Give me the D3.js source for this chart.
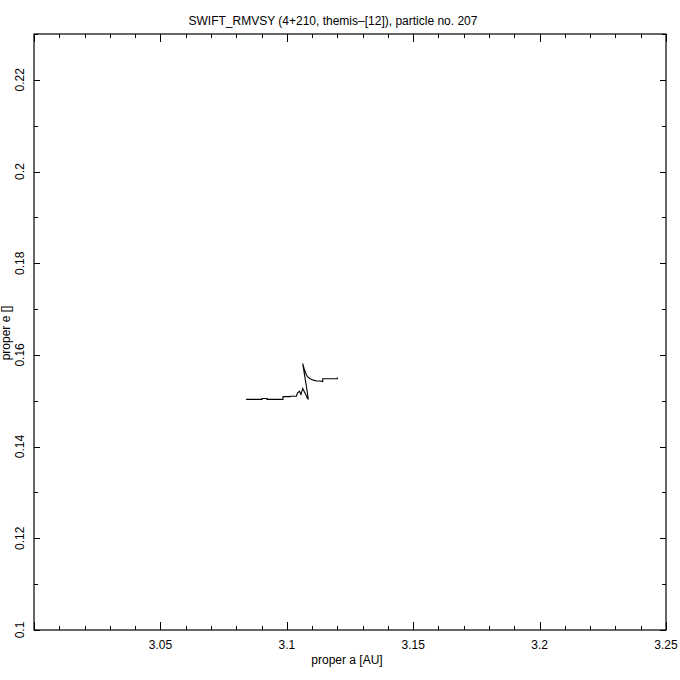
<!DOCTYPE html>
<html><head><meta charset="utf-8">
<script src="https://cdn.jsdelivr.net/npm/d3@7"></script>
<style>body{margin:0;background:#fff}svg text{font-family:"Liberation Sans",Arial,sans-serif;fill:#000}</style>
</head><body>
<svg id="c" width="680" height="680"></svg>
<script>
const titleText = "SWIFT_RMVSY (4+210, themis\u2013[12]), particle no. 207";
const xLabel = "proper a [AU]";
const yLabel = "proper e []";
const xDomain = [3.0, 3.25];
const yDomain = [0.1, 0.23];
const xTickLabels = [3.05, 3.1, 3.15, 3.2, 3.25];
const yTickLabels = [0.1, 0.12, 0.14, 0.16, 0.18, 0.2, 0.22];
const properA = [3.0839,3.0902,3.0902,3.0922,3.0922,3.0985,3.0985,3.1013,3.1013,3.1038,3.1042,3.1050,3.1056,3.1063,3.1072,3.1081,3.1085,3.1080,3.1072,3.1063,3.1068,3.1075,3.1081,3.1092,3.1105,3.1118,3.1131,3.1142,3.1142,3.1151,3.1200,3.1200];
const properE = [0.1503,0.1503,0.1505,0.1505,0.1503,0.1503,0.1509,0.1509,0.1510,0.1510,0.1517,0.1521,0.1514,0.1527,0.1517,0.1506,0.1503,0.1523,0.1550,0.1581,0.1571,0.1560,0.1553,0.1548,0.1545,0.1543,0.1543,0.1542,0.1548,0.1548,0.1548,0.1551];

const L=34,R=666,T=34,B=630;
const svg=d3.select("#c");
const x=d3.scaleLinear().domain(xDomain).range([L,R]);
const y=d3.scaleLinear().domain(yDomain).range([B,T]);

svg.append("rect").attr("x",L).attr("y",T).attr("width",R-L).attr("height",B-T)
  .attr("fill","none").attr("stroke","#000").attr("stroke-width",1.2);

const xMinor=d3.range(0,26).map(i=>3.0+i*0.01);
const yMinor=d3.range(0,14).map(i=>0.1+i*0.01);
const isMajX=v=>Math.abs(Math.round(v*20)-v*20)<1e-6;
const isMajY=v=>Math.abs(Math.round(v*50)-v*50)<1e-6;
const g=svg.append("g").attr("stroke","#000").attr("stroke-width",1);
xMinor.forEach(v=>{
  const len=isMajX(v)?8:4, px=Math.round(x(v))+0.5;
  g.append("line").attr("x1",px).attr("x2",px).attr("y1",B).attr("y2",B-len);
  g.append("line").attr("x1",px).attr("x2",px).attr("y1",T).attr("y2",T+len);
});
yMinor.forEach(v=>{
  const len=isMajY(v)?6:4, py=Math.round(y(v))+0.5;
  g.append("line").attr("y1",py).attr("y2",py).attr("x1",L).attr("x2",L+len);
  g.append("line").attr("y1",py).attr("y2",py).attr("x1",R).attr("x2",R-len);
});

svg.selectAll(".xl").data(xTickLabels).enter().append("text")
  .attr("x",d=>x(d)).attr("y",649).attr("text-anchor","middle").attr("font-size",12).text(d=>d);
svg.selectAll(".yl").data(yTickLabels).enter().append("text")
  .attr("transform",d=>`translate(24,${y(d)}) rotate(-90)`).attr("text-anchor","middle").attr("font-size",12).text(d=>d);

svg.append("text").attr("x",347).attr("y",664).attr("text-anchor","middle").attr("font-size",12).text(xLabel);
svg.append("text").attr("transform","translate(10,333) rotate(-90)").attr("text-anchor","middle").attr("font-size",12).text(yLabel);
svg.append("text").attr("x",333).attr("y",25).attr("text-anchor","middle").attr("font-size",12).text(titleText);

const pts=properA.map((a,i)=>[a,properE[i]]);
svg.append("path").datum(pts).attr("fill","none").attr("stroke","#000").attr("stroke-width",1.1)
  .attr("d",d3.line().x(d=>x(d[0])).y(d=>y(d[1])));
</script>
</body></html>
